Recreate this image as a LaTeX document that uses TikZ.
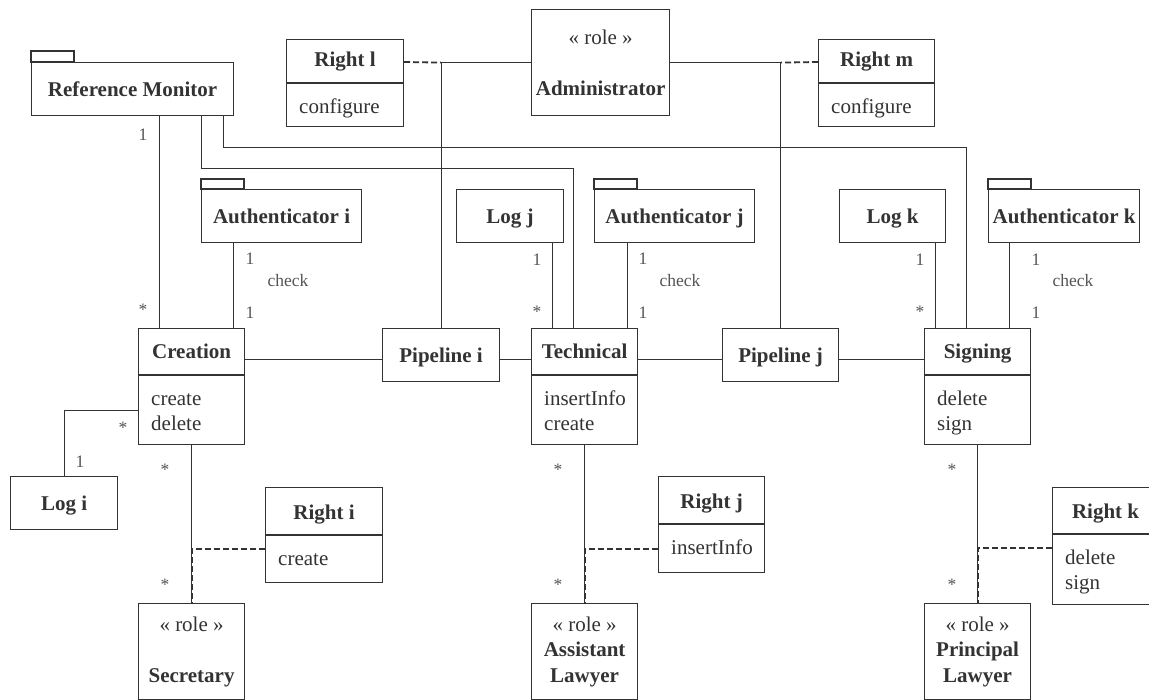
\documentclass[tikz,border=0pt]{standalone}
\usepackage{fontspec}
\setmainfont{Liberation Serif}
\usetikzlibrary{calc}
\definecolor{ink}{HTML}{333333}
\definecolor{lbl}{HTML}{555555}
\tikzset{
	box/.style={draw=ink, line width=1.2pt, anchor=north west, inner sep=0pt},
	solo/.style={box, font=\fontsize{21}{25.5}\selectfont\bfseries, text=ink, text height=15pt, text depth=0pt},
	role/.style={box, font=\fontsize{21}{25.5}\selectfont, text=ink, align=center},
	ttl/.style={font=\fontsize{21}{25.5}\selectfont\bfseries, text=ink, anchor=base, inner sep=0pt},
	ops/.style={font=\fontsize{21}{25.5}\selectfont, text=ink, anchor=north west, inner sep=0pt, align=left},
	tab/.style={draw=ink, line width=1.2pt},
	wire/.style={draw=ink, line width=0.9pt},
	link/.style={draw=ink, line width=1.8pt, dash pattern=on 6pt off 3pt},
	mult/.style={font=\fontsize{17.5}{20}\selectfont, text=lbl, inner sep=0pt},
}
% class box: name, corner, width, height, split depth, title, operations
\newcommand{\umlclass}[7]{%
	\node[box, minimum width=#3pt, minimum height=#4pt] (#1) at (#2) {};
	\draw[tab] ([yshift=-#5pt]#1.north west) -- ([yshift=-#5pt]#1.north east);
	\node[ttl] (#1-t) at ([yshift=-#5pt+16pt]#1.north) {#6};
	\node[ops] (#1-o) at ([xshift=13pt,yshift=-#5pt-12pt]#1.north west) {\strut #7};}
\begin{document}
\begin{tikzpicture}[x=1pt, y=-1pt]
	\useasboundingbox (0,0) rectangle (1149,700);
	\fill[white] (0,0) rectangle (1149,700);

	% packages
	\node[solo, minimum width=202pt, minimum height=53pt] (rm) at (31,62) {Reference Monitor};
	\draw[tab] (rm.north west) rectangle ++(43,-11);
	\node[solo, minimum width=160pt, minimum height=53pt] (authi) at (201,189) {Authenticator i};
	\draw[tab] (authi.north west) rectangle ++(43,-10);
	\node[solo, minimum width=160pt, minimum height=53pt] (authj) at (594,189) {Authenticator j};
	\draw[tab] (authj.north west) rectangle ++(43,-10);
	\node[solo, minimum width=151pt, minimum height=53pt] (authk) at (988,189) {Authenticator k};
	\draw[tab] (authk.north west) rectangle ++(43,-10);

	% logs and pipelines
	\node[solo, minimum width=107pt, minimum height=53pt] (logi) at (10,476) {Log i};
	\node[solo, minimum width=107pt, minimum height=53pt] (logj) at (456,189) {Log j};
	\node[solo, minimum width=106pt, minimum height=53pt] (logk) at (839,189) {Log k};
	\node[solo, minimum width=117pt, minimum height=53pt] (pipei) at (382,328) {Pipeline i};
	\node[solo, minimum width=116pt, minimum height=53pt] (pipej) at (722,328) {Pipeline j};

	% classes and rights
	\umlclass{crea}{138,328}{106}{116}{47}{Creation}{create\\delete}
	\umlclass{tech}{531,328}{106}{116}{47}{Technical}{insertInfo\\create}
	\umlclass{sign}{924,328}{106}{116}{47}{Signing}{delete\\sign}
	\umlclass{righti}{265,487}{117}{95}{48}{Right i}{create}
	\umlclass{rightj}{658,476}{106}{96}{48}{Right j}{insertInfo}
	\umlclass{rightk}{1052,487}{106}{117}{47}{Right k}{delete\\sign}
	\umlclass{rightl}{286,39}{117}{87}{44}{Right l}{configure}
	\umlclass{rightm}{818,39}{116}{87}{44}{Right m}{configure}

	% roles
	\node[role, minimum width=138pt, minimum height=106pt] (admin) at (531,9) {« role »\\[25.5pt]\textbf{Administrator}};
	\node[role, minimum width=106pt, minimum height=96pt] (sec) at (138,603) {« role »\\[25.5pt]\textbf{Secretary}};
	\node[role, minimum width=106pt, minimum height=96pt] (asst) at (531,603) {« role »\\\textbf{Assistant}\\\textbf{Lawyer}};
	\node[role, minimum width=106pt, minimum height=96pt] (prin) at (924,603) {« role »\\\textbf{Principal}\\\textbf{Lawyer}};

	% reference monitor
	\draw[wire] ($(crea.north west)+(21,0)$) -- ($(rm.south west)+(128,0)$);
	\draw[wire] ($(rm.south west)+(170,0)$) |- ($(tech.north west)+(42,-160)$) -- ($(tech.north west)+(42,0)$);
	\draw[wire] ($(rm.south west)+(192,0)$) |- ($(sign.north west)+(42,-181)$) -- ($(sign.north west)+(42,0)$);
	\node[mult] at (143,135) {1};
	\node[mult] at (143,310) {*};

	% authenticators and logs
	\draw[wire] ($(authi.south west)+(32,0)$) -- ($(crea.north west)+(95,0)$);
	\node[mult] at (250,259) {1};
	\node[mult] at (288,281) {check};
	\node[mult] at (250,313) {1};
	\draw[wire] ($(logj.south west)+(96,0)$) -- ($(tech.north west)+(21,0)$);
	\node[mult] at (537,260) {1};
	\node[mult] at (537,312) {*};
	\draw[wire] ($(authj.south west)+(33,0)$) -- ($(tech.north west)+(96,0)$);
	\node[mult] at (643,259) {1};
	\node[mult] at (680,281) {check};
	\node[mult] at (643,313) {1};
	\draw[wire] ($(logk.south west)+(96,0)$) -- ($(sign.north west)+(11,0)$);
	\node[mult] at (920,260) {1};
	\node[mult] at (920,312) {*};
	\draw[wire] ($(authk.south west)+(21,0)$) -- ($(sign.north west)+(85,0)$);
	\node[mult] at (1036,260) {1};
	\node[mult] at (1073,281) {check};
	\node[mult] at (1036,313) {1};
	\draw[wire] ($(crea.south west)+(0,-35)$) -| (logi.north);
	\node[mult] at (123,428) {*};
	\node[mult] at (80,462) {1};

	% pipelines
	\draw[wire] ($(crea.north east)+(0,31)$) -- ($(pipei.north west)+(0,31)$);
	\draw[wire] ($(pipei.north east)+(0,31)$) -- ($(tech.north west)+(0,31)$);
	\draw[wire] ($(tech.north east)+(0,31)$) -- ($(pipej.north west)+(0,31)$);
	\draw[wire] ($(pipej.north east)+(0,31)$) -- ($(sign.north west)+(0,31)$);
	\draw[wire] (pipei.north) |- (admin.west);
	\draw[wire] (pipej.north) |- (admin.east);
	\draw[link] ($(rightl.north east)+(0,23)$) -- (pipei.north |- admin.west);
	\draw[link] ($(rightm.north west)+(0,23)$) -- (pipej.north |- admin.east);

	% roles
	\draw[wire] (crea.south) -- (sec.north);
	\draw[link] ($(righti.south west)+(0,-34)$) -| (sec.north);
	\node[mult] at (165,470) {*};
	\node[mult] at (165,585) {*};
	\draw[wire] (tech.south) -- (asst.north);
	\draw[link] ($(rightj.south west)+(0,-24)$) -| (asst.north);
	\node[mult] at (558,470) {*};
	\node[mult] at (558,585) {*};
	\draw[wire] (sign.south) -- (prin.north);
	\draw[link] ($(rightk.south west)+(0,-57)$) -| (prin.north);
	\node[mult] at (952,470) {*};
	\node[mult] at (952,585) {*};
\end{tikzpicture}
\end{document}
